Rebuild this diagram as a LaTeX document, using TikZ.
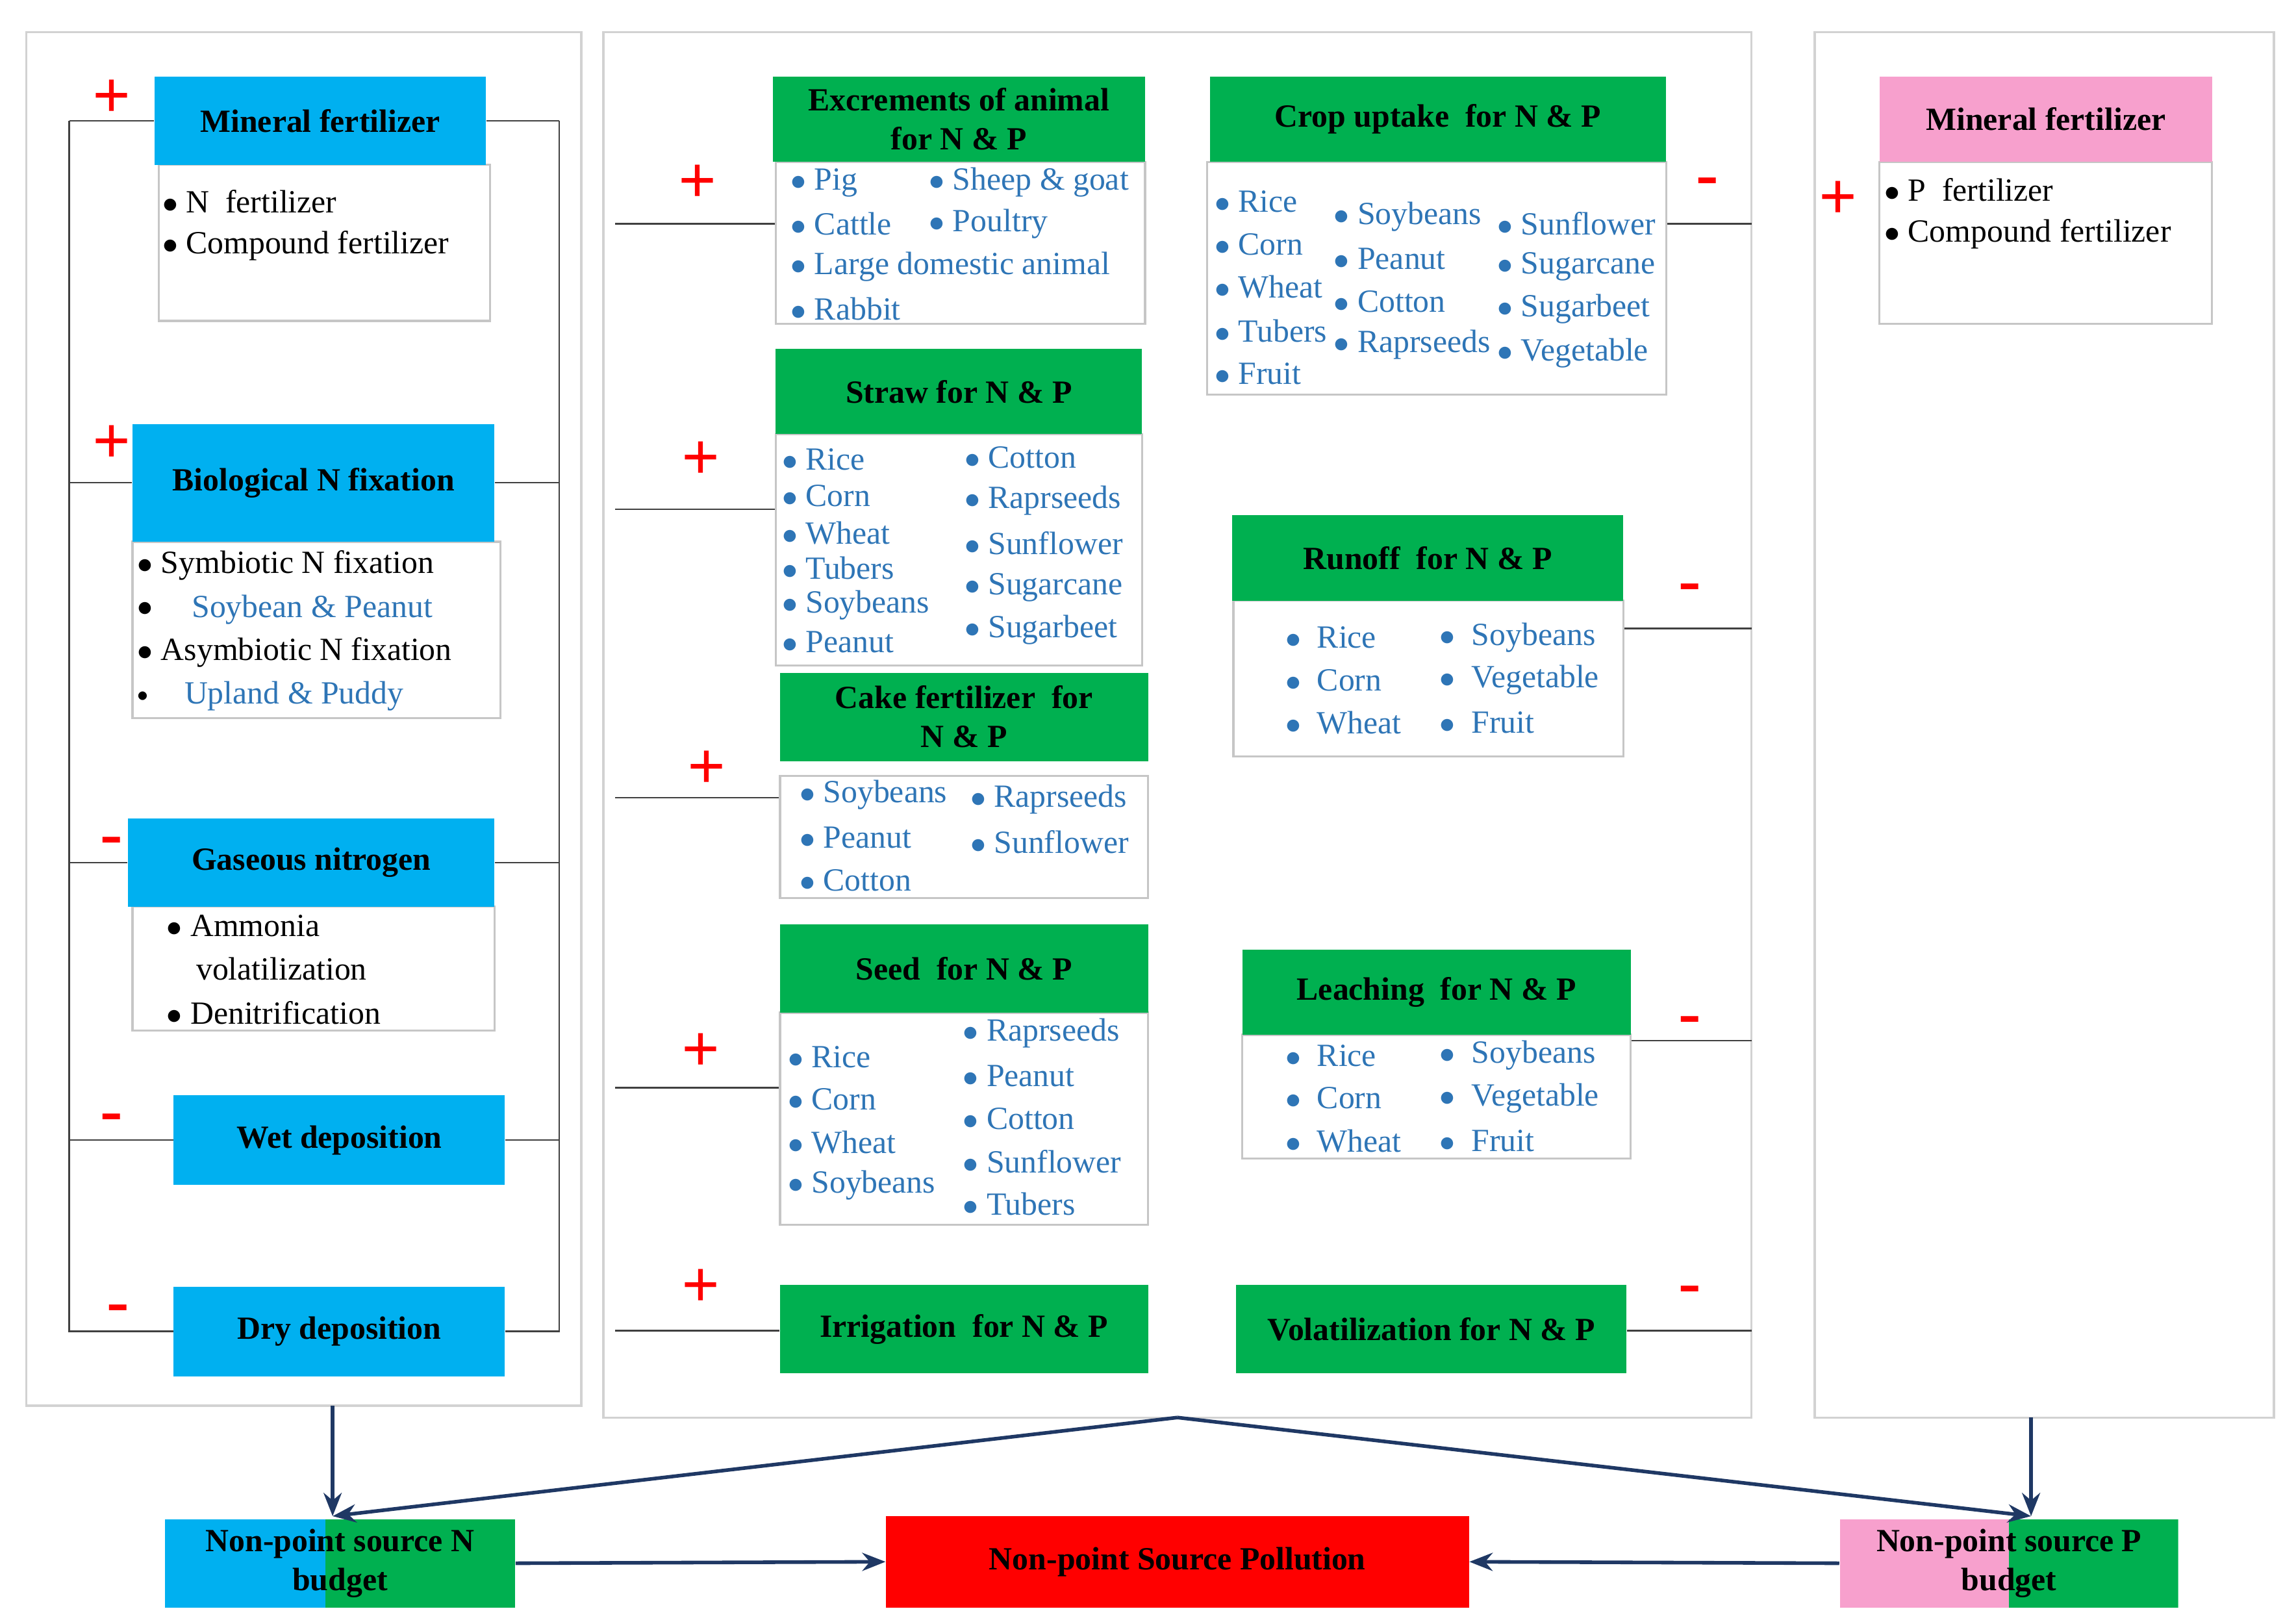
\documentclass[tikz,border=0pt]{standalone}
\usepackage{fontspec}
\setmainfont{Liberation Serif}
\usetikzlibrary{arrows.meta,positioning}
\definecolor{cyanhead}{RGB}{0,176,240}
\definecolor{greenhead}{RGB}{0,176,80}
\definecolor{pinkhead}{RGB}{247,160,205}
\definecolor{itemblue}{RGB}{46,117,182}
\definecolor{navyline}{RGB}{31,56,100}
\definecolor{redbox}{RGB}{255,0,0}
\tikzset{
  box/.style 2 args   = {rectangle, inner sep=0pt, minimum width=#1*0.02cm, minimum height=#2*0.02cm},
  head/.style         = {font=\fontsize{12.5}{15}\selectfont\bfseries, align=center},
  list/.style         = {draw=gray!45, line width=0.8pt, fill=white},
  bitem/.style        = {anchor=west, inner sep=0pt, text=itemblue, font=\fontsize{12.5}{15}\selectfont},
  kitem/.style        = {anchor=west, inner sep=0pt, text=black, font=\fontsize{12.5}{15}\selectfont},
  sign/.style         = {text=red, font=\fontsize{26}{26}\selectfont\bfseries, inner sep=0pt},
  line/.style         = {draw=black!75, line width=0.6pt},
  flow/.style         = {draw=navyline, line width=1.4pt, -{Stealth[length=9pt,width=7pt]}},
  panel/.style        = {draw=gray!35, line width=0.8pt},
}
\begin{document}
\begin{tikzpicture}[x=0.02cm, y=-0.02cm]
	\useasboundingbox (0,0) rectangle (1560,1101.5);

	% Panels %
	\draw [panel] (18,22) rectangle (395,955);
	\draw [panel] (410,22) rectangle (1190,963);
	\draw [panel] (1233,22) rectangle (1545,963);

	% Left panel: N inputs and outputs =======================%
	\node [box={225}{106}, list] (mfl) at (220.5,165) {};
	\node [box={225}{60}, head, fill=cyanhead] (mf) at (217.5,82) {Mineral fertilizer};
	\node [box={250}{120}, list] (bnfl) at (215,428) {};
	\node [box={246}{80}, head, fill=cyanhead] (bnf) at (213,328) {Biological N fixation};
	\node [box={246}{84}, list] (gasl) at (213,658) {};
	\node [box={249}{60}, head, fill=cyanhead] (gas) at (211.5,586) {Gaseous nitrogen};
	\node [box={225}{61}, head, fill=cyanhead] (wet) at (230.5,774.5) {Wet deposition};
	\node [box={225}{61}, head, fill=cyanhead] (dry) at (230.5,904.5) {Dry deposition};

	\node [kitem] (mf1) at (110,137) {$\bullet$ N\ \ fertilizer};
	\node [kitem] (mf2) at (110,167) {$\bullet$ Compound fertilizer};
	\node [kitem] (bnf1) at (93,384) {$\bullet$ Symbiotic N fixation};
	\node [kitem] (bnf2) at (93,414) {$\bullet$};
	\node [bitem] (bnf3) at (130,414) {Soybean \& Peanut};
	\node [kitem] (bnf4) at (93,443) {$\bullet$ Asymbiotic N fixation};
	\node [kitem] (bnf5) at (93,473) {\footnotesize$\bullet$};
	\node [bitem] (bnf6) at (125,473) {Upland \& Puddy};
	\node [kitem] (gas1) at (113,629) {$\bullet$ Ammonia};
	\node [kitem] (gas2) at (133,658) {volatilization};
	\node [kitem] (gas3) at (113,688) {$\bullet$ Denitrification};

	\coordinate (lt) at (47,82);
	\coordinate (lb) at (47,905);
	\coordinate (rt) at (380,82);
	\coordinate (rb) at (380,905);
	\draw [line] (lt) -- (lb);
	\draw [line] (rt) -- (rb);
	\foreach \n in {mf,bnf,gas,wet,dry}{
		\draw [line] (lt |- \n) -- (\n.west);
		\draw [line] (\n.east) -- (rt |- \n);
	}
	\node [sign] (s1) at (76,67) {+};
	\node [sign] (s2) at (76,302) {+};
	\node [sign] (s3) at (76,575) {-};
	\node [sign] (s4) at (76,763) {-};
	\node [sign] (s5) at (80,893) {-};

	% Middle panel: inputs =====================================%
	\node [box={251}{110}, list] (exl) at (652.5,165) {};
	\node [box={253}{58}, head, fill=greenhead] (ex) at (651.5,81) {Excrements of animal\\for N \& P};
	\node [box={249}{157}, list] (stl) at (651.5,373.5) {};
	\node [box={249}{58}, head, fill=greenhead] (st) at (651.5,266) {Straw for N \& P};
	\node [box={250}{83}, list] (cal) at (655,568.5) {};
	\node [box={250}{60}, head, fill=greenhead] (ca) at (655,487) {Cake fertilizer\ \ for\\N \& P};
	\node [box={250}{144}, list] (sel) at (655,760) {};
	\node [box={250}{60}, head, fill=greenhead] (se) at (655,658) {Seed\ \ for N \& P};
	\node [box={250}{60}, head, fill=greenhead] (ir) at (655,903) {Irrigation\ \ for N \& P};

	\foreach \x/\y/\t [count=\k] in {537/124/Pig, 631/124/{Sheep \& goat}, 537/152/Cattle, 631/152/Poultry, 537/181/{Large domestic animal}, 537/210/Rabbit}
		\node [bitem] (ex\k) at (\x,\y) {$\bullet$\ \t};
	\foreach \x/\y/\t [count=\k] in {531/312/Rice, 531/337/Corn, 531/362/Wheat, 531/386/Tubers, 531/411/Soybeans, 531/436/Peanut, 655/311/Cotton, 655/340/Raprseeds, 655/369/Sunflower, 655/399/Sugarcane, 655/428/Sugarbeet}
		\node [bitem] (st\k) at (\x,\y) {$\bullet$\ \t};
	\foreach \x/\y/\t [count=\k] in {543/540/Soybeans, 543/569/Peanut, 543/598/Cotton, 659/543/Raprseeds, 659/572/Sunflower}
		\node [bitem] (ca\k) at (\x,\y) {$\bullet$\ \t};
	\foreach \x/\y/\t [count=\k] in {535/718/Rice, 535/747/Corn, 535/776/Wheat, 535/805/Soybeans, 654/702/Raprseeds, 654/731/Peanut, 654/760/Cotton, 654/789/Sunflower, 654/818/Tubers}
		\node [bitem] (se\k) at (\x,\y) {$\bullet$\ \t};

	\foreach \n/\y in {exl/152, stl/346, cal/542, sel/739, ir/904}{
		\coordinate (in\n) at (418,\y);
		\draw [line] (in\n) -- (in\n -| \n.west);
	}
	\node [sign] (s6) at (474,125) {+};
	\node [sign] (s7) at (476,313) {+};
	\node [sign] (s8) at (480,523) {+};
	\node [sign] (s9) at (476,715) {+};
	\node [sign] (s10) at (476,875) {+};

	% Middle panel: outputs ====================================%
	\node [box={312}{158}, list] (cul) at (976,189) {};
	\node [box={310}{58}, head, fill=greenhead] (cu) at (977,81) {Crop uptake\ \ for N \& P};
	\node [box={265}{106}, list] (rol) at (970.5,461) {};
	\node [box={266}{58}, head, fill=greenhead] (ro) at (970,379) {Runoff\ \ for N \& P};
	\node [box={264}{84}, list] (lel) at (976,745) {};
	\node [box={264}{58}, head, fill=greenhead] (le) at (976,674) {Leaching\ \ for N \& P};
	\node [box={265}{60}, head, fill=greenhead] (vo) at (972.5,903) {Volatilization for N \& P};

	\foreach \x/\y/\t [count=\k] in {825/137/Rice, 825/166/Corn, 825/195/Wheat, 825/225/Tubers, 825/254/Fruit, 906/147/Soybeans, 906/176/Peanut, 906/205/Cotton, 906/234/Raprseeds, 1017/152/Sunflower, 1017/181/Sugarcane, 1017/210/Sugarbeet, 1017/240/Vegetable}
		\node [bitem] (cu\k) at (\x,\y) {$\bullet$\ \t};
	\foreach \x/\y/\t [count=\k] in {873/433/Rice, 873/462/Corn, 873/491/Wheat, 978/433/Soybeans, 978/462/Vegetable, 978/491/Fruit}
		\node [bitem] (ro\k) at (\x,\y) {$\bullet$\ \ \t};
	\foreach \x/\y/\t [count=\k] in {873/717/Rice, 873/746/Corn, 873/775/Wheat, 978/717/Soybeans, 978/746/Vegetable, 978/775/Fruit}
		\node [bitem] (le\k) at (\x,\y) {$\bullet$\ \ \t};

	\foreach \n/\y in {cul/152, rol/427, lel/707, vo/904}{
		\coordinate (out\n) at (1190,\y);
		\draw [line] (out\n -| \n.east) -- (out\n);
	}
	\node [sign] (s11) at (1160,127) {-};
	\node [sign] (s12) at (1148,403) {-};
	\node [sign] (s13) at (1148,697) {-};
	\node [sign] (s14) at (1148,880) {-};

	% Right panel: P inputs ====================================%
	\node [box={226}{110}, list] (mpl) at (1390,165) {};
	\node [box={226}{58}, head, fill=pinkhead] (mp) at (1390,81) {Mineral fertilizer};
	\node [kitem] (mp1) at (1280,129) {$\bullet$ P\ \ fertilizer};
	\node [kitem] (mp2) at (1280,159) {$\bullet$ Compound fertilizer};
	\node [sign] (s15) at (1249,136) {+};

	% Budgets ==================================================%
	\node [box={238}{60}, head, path picture={
		\fill [cyanhead] (path picture bounding box.south west) rectangle ([xshift=-0.2cm]path picture bounding box.north);
		\fill [greenhead] ([xshift=-0.2cm]path picture bounding box.south) rectangle (path picture bounding box.north east);}]
		(npn) at (231,1062) {Non-point source N\\budget};
	\node [box={396}{62}, head, fill=redbox] (nps) at (800,1061) {Non-point Source Pollution};
	\node [box={230}{60}, head, path picture={
		\fill [pinkhead] (path picture bounding box.south west) rectangle (path picture bounding box.north);
		\fill [greenhead] (path picture bounding box.south) rectangle (path picture bounding box.north east);}]
		(npp) at (1365,1062) {Non-point source P\\budget};

	\coordinate (lpanel) at (226,955);
	\coordinate (mpanel) at (800,963);
	\coordinate (rpanel) at (1380,963);
	\coordinate (npnin) at (226,1030);
	\coordinate (nppin) at (1380,1030);
	\draw [flow] (lpanel) -- (npnin);
	\draw [flow] (rpanel) -- (nppin);
	\draw [flow] (mpanel) -- (npnin);
	\draw [flow] (mpanel) -- (nppin);
	\draw [flow] (npn.east) -- (nps.west);
	\draw [flow] (npp.west) -- (nps.east);
\end{tikzpicture}
\end{document}
